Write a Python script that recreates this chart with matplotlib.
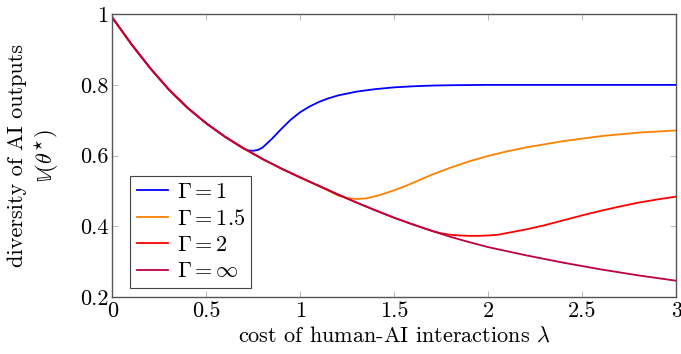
import matplotlib
matplotlib.use("Agg")
import matplotlib.pyplot as plt

# ---- data ----
x_inf = [0.0, 0.1, 0.2, 0.3, 0.4, 0.5, 0.6, 0.7, 0.8, 0.9, 1.0, 1.1, 1.2, 1.3, 1.4, 1.5,
         1.6, 1.7, 1.8, 1.9, 2.0, 2.2, 2.4, 2.6, 2.8, 3.0]
y_inf = [0.99, 0.916, 0.848, 0.787, 0.735, 0.691, 0.653, 0.62, 0.59, 0.563, 0.538, 0.514,
         0.49, 0.467, 0.445, 0.424, 0.405, 0.387, 0.37, 0.355, 0.341, 0.318, 0.297, 0.278,
         0.261, 0.246]

x_g1 = [0.0, 0.1, 0.2, 0.3, 0.4, 0.5, 0.6, 0.7, 0.725, 0.75, 0.775, 0.8, 0.85, 0.9, 0.95,
        1.0, 1.05, 1.1, 1.15, 1.2, 1.3, 1.4, 1.5, 1.6, 1.7, 1.8, 2.0, 2.5, 3.0]
y_g1 = [0.99, 0.916, 0.848, 0.787, 0.735, 0.691, 0.653, 0.619, 0.6145, 0.6135, 0.616, 0.623,
        0.648, 0.676, 0.702, 0.723, 0.739, 0.752, 0.762, 0.77, 0.781, 0.788, 0.793, 0.796,
        0.798, 0.799, 0.8, 0.8, 0.8]

x_g15 = [0.0, 0.1, 0.2, 0.3, 0.4, 0.5, 0.6, 0.7, 0.8, 0.9, 1.0, 1.1, 1.15, 1.2, 1.25, 1.3,
         1.35, 1.4, 1.45, 1.5, 1.55, 1.6, 1.7, 1.8, 1.9, 2.0, 2.1, 2.2, 2.4, 2.6, 2.8, 3.0]
y_g15 = [0.99, 0.916, 0.848, 0.787, 0.735, 0.691, 0.653, 0.62, 0.59, 0.563, 0.538, 0.514,
         0.501, 0.487, 0.480, 0.477, 0.479, 0.485, 0.493, 0.502, 0.512, 0.523, 0.546, 0.566,
         0.584, 0.599, 0.612, 0.623, 0.641, 0.655, 0.665, 0.671]

x_g2 = [0.0, 0.1, 0.2, 0.3, 0.4, 0.5, 0.6, 0.7, 0.8, 0.9, 1.0, 1.1, 1.2, 1.3, 1.4, 1.5,
        1.6, 1.7, 1.75, 1.8, 1.85, 1.9, 1.95, 2.0, 2.05, 2.1, 2.2, 2.3, 2.4, 2.5, 2.6, 2.7,
        2.8, 2.9, 3.0]
y_g2 = [0.99, 0.916, 0.848, 0.787, 0.735, 0.691, 0.653, 0.62, 0.59, 0.563, 0.538, 0.514,
        0.49, 0.467, 0.445, 0.424, 0.405, 0.387, 0.380, 0.376, 0.374, 0.373, 0.373, 0.374,
        0.376, 0.381, 0.391, 0.403, 0.417, 0.431, 0.444, 0.456, 0.467, 0.476, 0.484]

labels = [r"$\Gamma = 1$", r"$\Gamma = 1.5$", r"$\Gamma = 2$", r"$\Gamma = \infty$"]
colors = ["#0000ff", "#ff8000", "#ff0000", "#bf0040"]
xticks = [0, 0.5, 1, 1.5, 2, 2.5, 3]
xticklabels = ["0", "0.5", "1", "1.5", "2", "2.5", "3"]
yticks = [0.2, 0.4, 0.6, 0.8, 1.0]
yticklabels = ["0.2", "0.4", "0.6", "0.8", "1"]

plt.rcParams["font.family"] = ["cmr10", "DejaVu Serif"]
plt.rcParams["mathtext.fontset"] = "cm"
plt.rcParams["axes.unicode_minus"] = False

fig = plt.figure(figsize=(6.81, 3.54), dpi=100)
ax = fig.add_axes([0.165, 0.161, 0.828, 0.799])

series = [(x_g1, y_g1), (x_g15, y_g15), (x_g2, y_g2), (x_inf, y_inf)]
for (xs, ys), lab, c in zip(series, labels, colors):
    ax.plot(xs, ys, color=c, lw=1.3, label=lab, solid_joinstyle="round")

ax.set_xlim(0, 3)
ax.set_ylim(0.2, 1.0)
ax.set_xticks(xticks)
ax.set_xticklabels(xticklabels)
ax.set_yticks(yticks)
ax.set_yticklabels(yticklabels)
ax.tick_params(direction="in", length=4, width=0.6, color="#b0b0b0",
               top=True, right=True, labelsize=16, pad=3)
for s in ax.spines.values():
    s.set_color("#555555")
    s.set_linewidth(1.0)

ax.set_xlabel(r"cost of human-AI interactions $\lambda$", fontsize=16, labelpad=4)
fig.text(0.025, 0.56, "diversity of AI outputs", rotation=90, fontsize=16,
         ha="center", va="center")
fig.text(0.069, 0.56, r"$\mathbb{V}(\theta^{\star})$", rotation=90, fontsize=16,
         ha="center", va="center")

leg = ax.legend(loc="upper left", bbox_to_anchor=(0.031, 0.428), borderaxespad=0,
                fontsize=16, handlelength=1.4, handletextpad=0.4,
                labelspacing=0.3, borderpad=0.3, fancybox=False, framealpha=1)
leg.get_frame().set_edgecolor("#444444")
leg.get_frame().set_linewidth(0.8)

fig.savefig("out.png", dpi=100)
